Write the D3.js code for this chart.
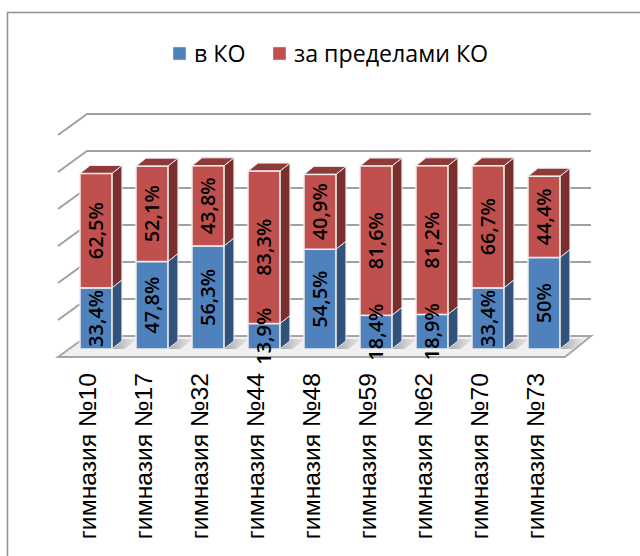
<!DOCTYPE html>
<html lang="ru">
<head>
  <meta charset="UTF-8" />
  <title>Гимназии</title>
  <script src="https://d3js.org/d3.v7.min.js"></script>
  <style>
    html, body { margin: 0; padding: 0; background: #fff; }
    svg { display: block; }
    .legend text { font-family: "Open Sans", sans-serif; font-size: 23.2px; fill: #000; }
    .cat text { font-family: "Liberation Sans", sans-serif; font-size: 24.7px; fill: #000; }
    .val text { font-family: "Open Sans", sans-serif; font-size: 20px; font-weight: 600; fill: #000; }
  </style>
</head>
<body>
  <svg id="chart" width="640" height="556"></svg>
  <script>
    const categories = ['гимназия №10', 'гимназия №17', 'гимназия №32', 'гимназия №44', 'гимназия №48',
                        'гимназия №59', 'гимназия №62', 'гимназия №70', 'гимназия №73'];
    const inKO     = [33.4, 47.8, 56.3, 13.9, 54.5, 18.4, 18.9, 33.4, 50];
    const outKO    = [62.5, 52.1, 43.8, 83.3, 40.9, 81.6, 81.2, 66.7, 44.4];
    const seriesNames = ['в КО', 'за пределами КО'];
    const gridTicks = [0, 20, 40, 60, 80, 100, 120];

    const colors = [
      { front: '#4f81bd', side: '#30527b', top: '#3d659a' },
      { front: '#c0504d', side: '#7a2f2d', top: '#8f3a38' }
    ];
    const svg = d3.select('#chart');
    const fmt = v => String(v).replace('.', ',') + '%';

    const defs = svg.append('defs');
    const shade = defs.append('linearGradient').attr('id', 'shadow').attr('x1', 0).attr('x2', 1).attr('y1', 0).attr('y2', 0);
    shade.append('stop').attr('offset', 0).attr('stop-color', '#a8a8a8');
    shade.append('stop').attr('offset', 1).attr('stop-color', '#efefef');

    // chart frame
    svg.append('path').attr('d', 'M7.5,556V12.5H640').attr('fill', 'none').attr('stroke', '#909090').attr('stroke-width', 1.5);

    // back wall and bar plane have their own y scales (fake 3d)
    const yWall = d3.scaleLinear().domain([0, 120]).range([336, 114]);
    const yBar  = d3.scaleLinear().domain([0, 100]).range([349, 166]);
    const x = d3.scaleBand().domain(categories).range([68.8, 571.1]).paddingInner(0.43).paddingOuter(0.2);
    const wallDx = 29, wallDy = 21, depthDx = 10, depthDy = 8;

    // gridlines, back wall plus the slanted side wall
    const grid = svg.append('g').attr('fill', 'none').attr('stroke', '#a0a0a0').attr('stroke-width', 2);
    gridTicks.slice(1).forEach(t => {
      grid.append('path').attr('d', `M58,${yWall(t) + wallDy}L${58 + wallDx},${yWall(t)}H591`);
    });

    // floor
    svg.append('polygon')
      .attr('points', `58,${yWall(0) + wallDy} ${58 + wallDx},${yWall(0)} 591,${yWall(0)} 565,${yWall(0) + wallDy}`)
      .attr('fill', '#f0f0f0').attr('stroke', '#a6a6a6').attr('stroke-width', 2);

    // bars
    const bars = svg.append('g');
    categories.forEach((c, i) => {
      const x0 = x(c), x1 = x0 + x.bandwidth();
      let base = 0;
      [inKO[i], outKO[i]].forEach((v, s) => {
        const y0 = yBar(base), y1 = yBar(base + v);
        const col = colors[s];
        const g = bars.append('g').attr('stroke', '#e8e8e8').attr('stroke-width', 1);
        // floor shadow
        if (s === 0) {
          g.append('polygon')
            .attr('points', `${x1},${y0} ${x1 + 12},${y0} ${x1 + depthDx + 16},${y0 - depthDy - 2} ${x1 + depthDx},${y0 - depthDy - 2}`)
            .attr('fill', 'url(#shadow)').attr('stroke', 'none');
        }
        g.append('polygon')
          .attr('points', `${x1},${y0} ${x1 + depthDx},${y0 - depthDy} ${x1 + depthDx},${y1 - depthDy} ${x1},${y1}`)
          .attr('fill', col.side);
        if (s === 1) {
          g.append('polygon')
            .attr('points', `${x0},${y1} ${x0 + depthDx},${y1 - depthDy} ${x1 + depthDx},${y1 - depthDy} ${x1},${y1}`)
            .attr('fill', col.top);
        }
        g.append('rect').attr('x', x0).attr('y', y1).attr('width', x1 - x0).attr('height', y0 - y1)
          .attr('fill', col.front).attr('stroke', '#efefef').attr('stroke-width', 1.5);
        base += v;
      });
    });

    // value labels
    const vals = svg.append('g').attr('class', 'val');
    categories.forEach((c, i) => {
      const cx = x(c) + x.bandwidth() / 2;
      let base = 0;
      [inKO[i], outKO[i]].forEach(v => {
        const cy = yBar(base + v / 2);
        vals.append('text')
          .attr('transform', `translate(${cx},${cy}) rotate(-90)`)
          .attr('text-anchor', 'middle').attr('dy', '0.36em')
          .text(fmt(v));
        base += v;
      });
    });

    // category labels
    const cats = svg.append('g').attr('class', 'cat');
    categories.forEach(c => {
      cats.append('text')
        .attr('transform', `translate(${x(c) + x.bandwidth() / 2 - 8.5},373) rotate(-90)`)
        .attr('text-anchor', 'end').attr('dy', '0.36em')
        .text(c);
    });

    // legend
    const legend = svg.append('g').attr('class', 'legend');
    [[173, 194], [273, 294]].forEach(([sx, tx], i) => {
      legend.append('rect').attr('x', sx).attr('y', 47).attr('width', 13).attr('height', 13)
        .attr('fill', colors[i].front).attr('stroke', '#e0e8f0').attr('stroke-width', 0.5);
      legend.append('text').attr('x', tx).attr('y', 62).text(seriesNames[i]);
    });
  </script>
</body>
</html>
